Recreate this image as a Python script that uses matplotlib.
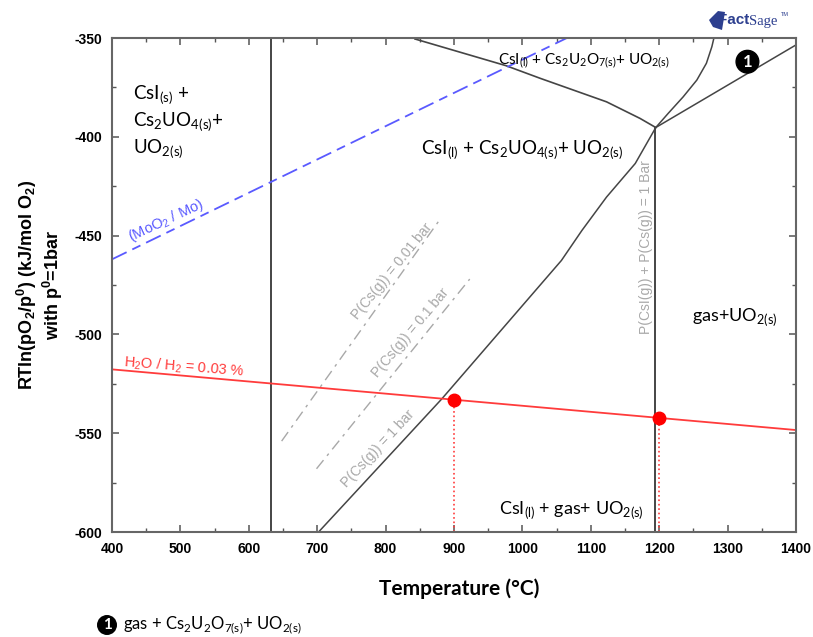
import numpy as np
import matplotlib
import matplotlib.pyplot as plt
from matplotlib.patches import Polygon

matplotlib.use("Agg")

plt.rcParams["mathtext.fontset"] = "custom"
plt.rcParams["mathtext.rm"] = "Lato"
plt.rcParams["mathtext.sf"] = "Liberation Sans"
plt.rcParams["mathtext.bf"] = "Liberation Sans:bold"
plt.rcParams["axes.unicode_minus"] = False

# Phase boundaries, T in degC, RT ln(pO2) in kJ/mol O2
T_csi_melt = [632, 632]
G_csi_melt = [-600, -350]

T_gas_boundary = [1194, 1194]
G_gas_boundary = [-600, -395.3]

T_u2o7_low = [843, 976, 1026, 1123, 1172, 1195]
G_u2o7_low = [-350.5, -364.0, -370.4, -382.3, -390.7, -395.3]

T_u2o7_curve = [1195, 1213, 1235, 1255, 1269, 1277, 1280]
G_u2o7_curve = [-395.3, -388.2, -379.8, -371.3, -362.8, -354.4, -350.0]

T_u2o7_high = [1195, 1400]
G_u2o7_high = [-395.3, -353.5]

T_cs_1bar = [702, 882, 1057, 1087, 1123, 1165, 1195]
G_cs_1bar = [-600, -532.7, -462.6, -447.4, -430.5, -413.5, -395.3]

T_cs_01bar = [699, 923]
G_cs_01bar = [-568, -472]

T_cs_001bar = [648, 877]
G_cs_001bar = [-554, -443]

T_moo2 = [400, 1065]
G_moo2 = [-462, -350]

T_h2o = [400, 1400]
G_h2o = [-517.7, -548.4]

T_points = [900, 1200]
G_points = np.interp(T_points, T_h2o, G_h2o)

x_ticks = list(range(400, 1401, 100))
y_ticks = list(range(-600, -349, 50))

fig = plt.figure(figsize=(8.13, 6.37), dpi=100)
ax = fig.add_axes([112 / 813, 1 - 532 / 637, 684 / 813, 494 / 637])

dark = "#454545"
grey = "#a8a8a8"
red = "#ff3b3b"
blue = "#5a5aff"

ax.plot(T_csi_melt, G_csi_melt, color=dark, lw=1.4)
ax.plot(T_gas_boundary, G_gas_boundary, color=dark, lw=1.4)
ax.plot(T_u2o7_low, G_u2o7_low, color=dark, lw=1.2)
ax.plot(T_u2o7_curve, G_u2o7_curve, color=dark, lw=1.1)
ax.plot(T_u2o7_high, G_u2o7_high, color=dark, lw=1.1)
ax.plot(T_cs_1bar, G_cs_1bar, color=dark, lw=1.1)

ax.plot(T_cs_01bar, G_cs_01bar, color=grey, lw=1.0, dashes=(8, 4, 2, 4))
ax.plot(T_cs_001bar, G_cs_001bar, color=grey, lw=1.0, dashes=(8, 4, 2, 4))

ax.plot(T_moo2, G_moo2, color=blue, lw=1.3, dashes=(9, 3.5, 5, 3.5))
ax.plot(T_h2o, G_h2o, color=red, lw=1.3)

for t, g in zip(T_points, G_points):
    ax.plot([t, t], [-600, g], color=red, lw=1.2, ls=":")
ax.plot(T_points, G_points, "o", color="red", ms=9, zorder=5)

# line labels
ax.text(479, -442.5, r"(MoO$_\mathsf{2}$ / Mo)", color=blue, fontsize=10.5,
        family="Liberation Sans", rotation=25, ha="center", va="center")
ax.text(505, -516.5, r"H$_\mathsf{2}$O / H$_\mathsf{2}$ = 0.03 %", color=red,
        fontsize=10.5, family="Liberation Sans", rotation=-4.5, ha="center", va="center")
ax.text(810, -468, "P(Cs(g)) = 0.01 bar", color=grey, fontsize=10,
        family="Liberation Sans", rotation=51, ha="center", va="center")
ax.text(836, -499, "P(Cs(g)) = 0.1 bar", color=grey, fontsize=10,
        family="Liberation Sans", rotation=50, ha="center", va="center")
ax.text(789, -558, "P(Cs(g)) = 1 bar", color=grey, fontsize=10,
        family="Liberation Sans", rotation=47, ha="center", va="center")
ax.text(1180, -456, "P(CsI(g)) + P(Cs(g)) = 1 Bar", color=grey, fontsize=10,
        family="Liberation Sans", rotation=90, ha="center", va="center")

# phase field labels
lab = dict(family="Lato", color="black", fontsize=13.5)
ax.text(431, -379, r"CsI$_\mathrm{(s)}$ +", ha="left", va="center", **lab)
ax.text(431, -392.5, r"Cs$_\mathrm{2}$UO$_\mathrm{4(s)}$+", ha="left", va="center", **lab)
ax.text(431, -406.5, r"UO$_\mathrm{2(s)}$", ha="left", va="center", **lab)
ax.text(1000, -407, r"CsI$_\mathrm{(l)}$ + Cs$_\mathrm{2}$UO$_\mathrm{4(s)}$+ UO$_\mathrm{2(s)}$",
        ha="center", va="center", **lab)
ax.text(1090, -362, r"CsI$_\mathrm{(l)}$ + Cs$_\mathrm{2}$U$_\mathrm{2}$O$_\mathrm{7(s)}$+ UO$_\mathrm{2(s)}$",
        ha="center", va="center", family="Lato", fontsize=11)
ax.text(1311, -491, r"gas+UO$_\mathrm{2(s)}$", ha="center", va="center",
        family="Lato", fontsize=13)
ax.text(1071, -589, r"CsI$_\mathrm{(l)}$ + gas+ UO$_\mathrm{2(s)}$", ha="center", va="center",
        family="Lato", fontsize=13)
ax.text(1329, -362, "1", ha="center", va="center", color="white", fontsize=12,
        fontweight="bold", family="Lato",
        bbox=dict(boxstyle="circle,pad=0.2", fc="black", ec="black"))

ax.set_xlim(400, 1400)
ax.set_ylim(-600, -350)
ax.set_xticks(x_ticks)
ax.set_yticks(y_ticks)
ax.set_xticks(np.arange(450, 1400, 100), minor=True)
ax.set_yticks(np.arange(-575, -350, 50), minor=True)
ax.tick_params(which="both", direction="in", top=True, right=True, colors="#555555")
ax.tick_params(which="major", length=5, width=1.1, labelsize=10, labelcolor="black", pad=7)
ax.tick_params(which="minor", length=3, width=1.0)
for lbl in ax.get_xticklabels() + ax.get_yticklabels():
    lbl.set_fontweight("bold")
    lbl.set_family("Liberation Sans")
for sp in ax.spines.values():
    sp.set_color("#666666")
    sp.set_linewidth(1.5)

fig.text(459 / 813, 1 - 589 / 637, "Temperature (°C)", ha="center", va="center",
         family="Lato", fontweight="bold", fontsize=15)
fig.text(40 / 813, 1 - 285 / 637,
         "RTln(pO$_\\mathbf{2}$/p$^\\mathbf{0}$) (kJ/mol O$_\\mathbf{2}$)\nwith p$^\\mathbf{0}$=1bar",
         rotation=90, ha="center", va="center", multialignment="center",
         family="Liberation Sans", fontweight="bold", fontsize=13, linespacing=1.15)

# footnote for the numbered field
fig.text(107 / 813, 1 - 625 / 637, "1", ha="center", va="center", color="white",
         fontsize=11, fontweight="bold", family="Lato",
         bbox=dict(boxstyle="circle,pad=0.15", fc="black", ec="black"))
fig.text(123 / 813, 1 - 625 / 637,
         r"gas + Cs$_\mathrm{2}$U$_\mathrm{2}$O$_\mathrm{7(s)}$+ UO$_\mathrm{2(s)}$",
         ha="left", va="center", family="Lato", fontsize=12)

# FactSage logo
logo = "#2d3f8f"
fig.patches.append(Polygon([[709 / 813, 1 - 20 / 637], [718 / 813, 1 - 11 / 637],
                            [725 / 813, 1 - 12 / 637], [722 / 813, 1 - 30 / 637],
                            [713 / 813, 1 - 27 / 637]],
                           closed=True, transform=fig.transFigure, fc=logo, ec="none"))
fig.text(718 / 813, 1 - 20 / 637, "Fact", ha="left", va="center", color=logo,
         fontsize=11, fontweight="bold", family="Liberation Sans")
fig.text(749 / 813, 1 - 21 / 637, "Sage", ha="left", va="center", color=logo,
         fontsize=10.5, family="Liberation Serif")
fig.text(781 / 813, 1 - 14 / 637, "TM", ha="left", va="center", color=logo,
         fontsize=4, family="Liberation Sans")

fig.savefig("out.png", dpi=100)
